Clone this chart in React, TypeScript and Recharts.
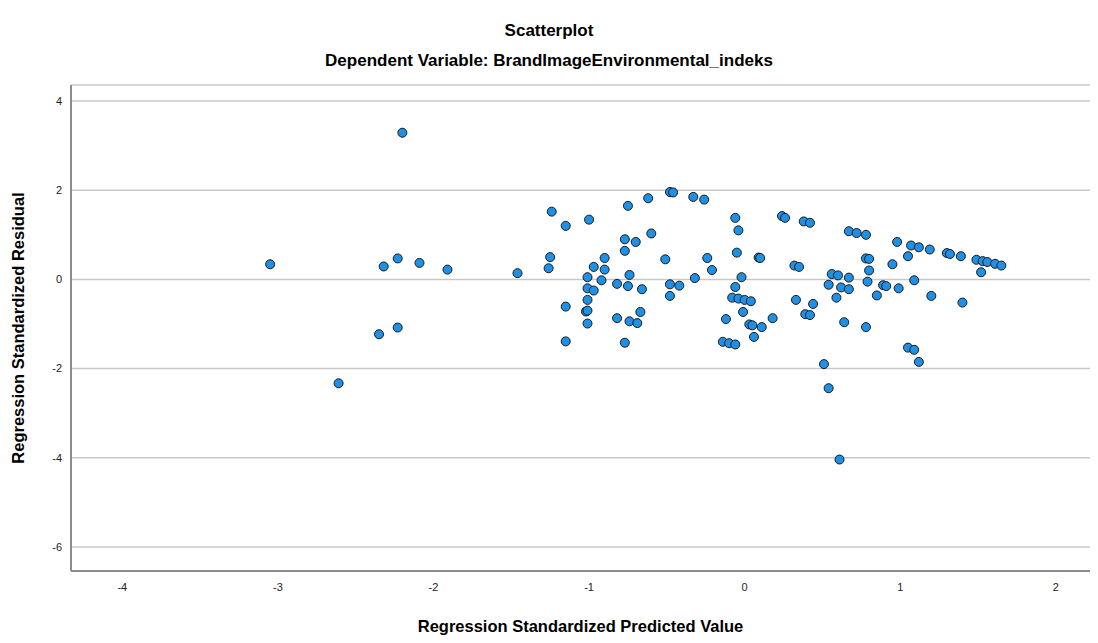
import React from "react";
import { ScatterChart, Scatter, XAxis, YAxis, CartesianGrid, Label } from "recharts";

const title = "Scatterplot";
const subtitle = "Dependent Variable: BrandImageEnvironmental_indeks";
const xLabel = "Regression Standardized Predicted Value";
const yLabel = "Regression Standardized Residual";

const xTicks = [-4, -3, -2, -1, 0, 1, 2];
const yTicks = [-6, -4, -2, 0, 2, 4];

const predicted = [
  -3.05, -2.61, -2.35, -2.32, -2.23, -2.23, -2.2, -2.09, -1.91, -1.46,
  -1.24, -1.15, -1.0, -0.75, -0.62, -0.48, -0.46, -0.33, -0.26, -0.77,
  -0.7, -0.6, -0.77, -1.25, -1.26, -0.9, -0.97, -0.9, -1.01, -0.92,
  -0.74, -0.51, -0.24, -0.21, -0.32, -1.01, -0.97, -0.82, -0.75, -0.66,
  -0.48, -0.42, -0.48, -1.01, -1.15, -1.02, -1.01, -1.01, -0.82, -0.74,
  -0.69, -0.67, -1.15, -0.77,
  -0.06, -0.04, 0.24, 0.26, 0.38, 0.42, 0.67, 0.72, 0.78, -0.05,
  0.09, 0.1, 0.32, 0.35, 0.78, 0.8, 0.8, 0.79, -0.02, -0.06,
  -0.08, -0.04, 0.0, 0.04, -0.01, -0.12, 0.03, 0.05, 0.11, 0.18,
  0.06, -0.14, -0.1, -0.06, 0.33, 0.44, 0.39, 0.42, 0.56, 0.6,
  0.67, 0.54, 0.62, 0.67, 0.59, 0.64, 0.78, 0.85, 0.89, 0.51,
  0.54, 0.61,
  0.98, 1.07, 1.12, 1.19, 1.3, 1.32, 1.39, 1.49, 1.53, 1.56,
  1.61, 1.65, 1.52, 1.05, 0.95, 1.09, 0.91, 0.99, 1.2, 1.4,
  1.05, 1.09, 1.12,
];

const residual = [
  0.34, -2.33, -1.23, 0.29, 0.47, -1.08, 3.29, 0.37, 0.22, 0.14,
  1.52, 1.2, 1.34, 1.65, 1.82, 1.96, 1.95, 1.85, 1.79, 0.9,
  0.84, 1.03, 0.64, 0.5, 0.25, 0.48, 0.28, 0.22, 0.05, -0.02,
  0.1, 0.45, 0.48, 0.21, 0.03, -0.2, -0.25, -0.1, -0.15, -0.22,
  -0.11, -0.14, -0.37, -0.46, -0.61, -0.72, -0.7, -0.99, -0.87, -0.94,
  -0.98, -0.73, -1.39, -1.42,
  1.38, 1.1, 1.42, 1.38, 1.3, 1.27, 1.08, 1.04, 1.0, 0.6,
  0.49, 0.48, 0.31, 0.28, 0.47, 0.46, 0.2, -0.05, 0.05, -0.17,
  -0.41, -0.43, -0.46, -0.49, -0.73, -0.89, -1.01, -1.03, -1.07, -0.87,
  -1.29, -1.4, -1.43, -1.46, -0.46, -0.55, -0.78, -0.8, 0.12, 0.09,
  0.04, -0.12, -0.18, -0.22, -0.41, -0.96, -1.07, -0.36, -0.13, -1.9,
  -2.44, -4.04,
  0.84, 0.76, 0.72, 0.67, 0.59, 0.57, 0.52, 0.44, 0.41, 0.39,
  0.35, 0.31, 0.16, 0.52, 0.34, -0.02, -0.15, -0.2, -0.37, -0.52,
  -1.53, -1.58, -1.85,
];

const data = predicted.map((x, i) => ({ x, y: residual[i] }));

const Dot = (props: any) => (
  <circle cx={props.cx} cy={props.cy} r={4.5} fill="#1e90e6" stroke="#1a1a1a" strokeWidth={1} />
);

const textFont = "'Liberation Sans', Arial, sans-serif";

export default function App() {
  return (
    <div style={{ position: "absolute", left: 0, top: 0, width: 1098, height: 643, background: "#fff", fontFamily: textFont }}>
      <div style={{ position: "absolute", left: 0, width: 1098, top: 19, lineHeight: "24px", textAlign: "center", fontWeight: "bold", fontSize: 17, color: "#000" }}>
        {title}
      </div>
      <div style={{ position: "absolute", left: 0, width: 1098, top: 49, lineHeight: "24px", textAlign: "center", fontWeight: "bold", fontSize: 17, color: "#000" }}>
        {subtitle}
      </div>
      <ScatterChart width={1098} height={643} margin={{ top: 85, right: 8, bottom: 0, left: 0 }}>
        <CartesianGrid vertical={false} stroke="#c8c8c8" strokeWidth={1.5} />
        <XAxis
          type="number"
          dataKey="x"
          domain={[-4.33, 2.22]}
          ticks={xTicks}
          allowDataOverflow
          height={72}
          tickLine={false}
          tickMargin={6}
          axisLine={{ stroke: "#8c8c8c", strokeWidth: 2 }}
          tick={{ fill: "#222", fontSize: 11, fontFamily: textFont }}
        >
          <Label value={xLabel} position="insideBottom" offset={11} style={{ fontWeight: "bold", fontSize: 16.5, fill: "#000", fontFamily: textFont }} />
        </XAxis>
        <YAxis
          type="number"
          dataKey="y"
          domain={[-6.54, 4.36]}
          ticks={yTicks}
          allowDataOverflow
          width={71}
          tickLine={false}
          tickMargin={3}
          axisLine={{ stroke: "#8c8c8c", strokeWidth: 2 }}
          tick={{ fill: "#222", fontSize: 11, fontFamily: textFont }}
        >
          <Label value={yLabel} angle={-90} position="insideLeft" offset={18} style={{ textAnchor: "middle", fontWeight: "bold", fontSize: 16.5, fill: "#000", fontFamily: textFont }} />
        </YAxis>
        <Scatter data={data} shape={Dot} isAnimationActive={false} />
      </ScatterChart>
    </div>
  );
}
